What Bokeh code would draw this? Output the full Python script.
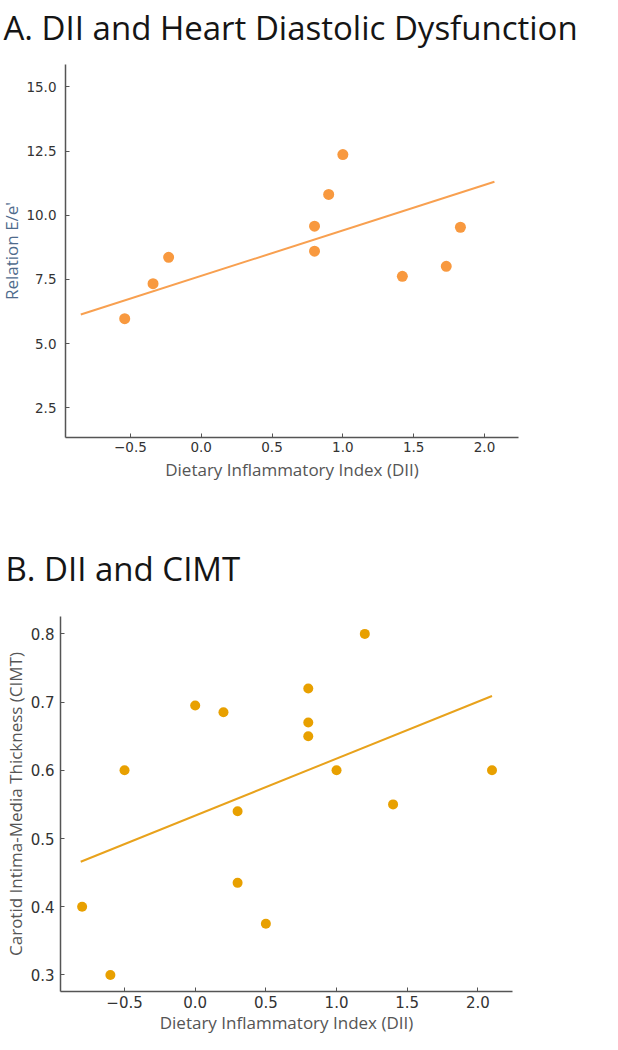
from bokeh.embed import file_html
from bokeh.models import CustomJSTickFormatter, FixedTicker, Range1d
from bokeh.plotting import figure
from bokeh.resources import INLINE

# A. DII vs E/e'
dii_a = [-0.54, -0.34, -0.23, 0.80, 0.80, 0.90, 1.00, 1.42, 1.73, 1.83]
ee_a = [5.97, 7.33, 8.36, 9.57, 8.60, 10.81, 12.36, 7.62, 8.01, 9.53]
trend_a_x = [-0.85, 2.07]
trend_a_y = [6.13, 11.30]

# B. DII vs CIMT
dii_b = [-0.8, -0.6, -0.5, 0.0, 0.2, 0.3, 0.3, 0.5, 0.8, 0.8, 0.8, 1.0, 1.2, 1.4, 2.1]
cimt_b = [0.40, 0.30, 0.60, 0.695, 0.685, 0.54, 0.435, 0.375, 0.72, 0.67, 0.65, 0.60, 0.80, 0.55, 0.60]
trend_b_x = [-0.81, 2.10]
trend_b_y = [0.466, 0.709]

x_ticks = [-0.5, 0.0, 0.5, 1.0, 1.5, 2.0]
y_ticks_a = [2.5, 5.0, 7.5, 10.0, 12.5, 15.0]
y_ticks_b = [0.3, 0.4, 0.5, 0.6, 0.7, 0.8]

fmt = "return tick.toFixed(1).replace('-', '\\u2212');"


def style(p, title, offset, standoff, ylabel, ylabel_color, tick_size):
    p.title.text = title
    p.title.text_font = "Open Sans"
    p.title.text_font_size = "33px"
    p.title.text_font_style = "normal"
    p.title.text_color = "#151515"
    p.title.align = "left"
    p.title.vertical_align = "top"
    p.title.offset = offset
    p.title.standoff = standoff
    p.grid.visible = False
    p.outline_line_color = None
    p.yaxis.axis_label = ylabel
    p.xaxis.axis_label = "Dietary Inflammatory Index (DII)"
    for ax in (p.xaxis[0], p.yaxis[0]):
        ax.axis_line_color = "#555555"
        ax.axis_line_width = 1.5
        ax.major_tick_in = 4
        ax.major_tick_out = 0
        ax.major_tick_line_color = "#555555"
        ax.minor_tick_line_color = None
        ax.major_label_text_font = "DejaVu Sans"
        ax.major_label_text_font_size = tick_size
        ax.major_label_text_color = "#333333"
        ax.axis_label_text_font = "Open Sans"
        ax.axis_label_text_font_size = "17px"
        ax.axis_label_text_font_style = "normal"
        ax.axis_label_text_color = "#555555"
        ax.formatter = CustomJSTickFormatter(code=fmt)
    p.yaxis.axis_label_text_color = ylabel_color


pa = figure(frame_width=453, frame_height=373, output_backend="svg", toolbar_location=None,
            x_range=Range1d(-0.958, 2.24), y_range=Range1d(1.34, 15.87),
            min_border_left=69, min_border_right=60, min_border_top=70, min_border_bottom=101,
            styles={"margin-top": "-8px", "margin-left": "-4px"})
style(pa, "A. DII and Heart Diastolic Dysfunction", -62, 25,
      "Relation E/e'", "#4f6b8c", "13.5px")
pa.xaxis.ticker = FixedTicker(ticks=x_ticks)
pa.yaxis.ticker = FixedTicker(ticks=y_ticks_a)
pa.yaxis.major_label_standoff = 9
pa.yaxis.axis_label_standoff = 0
pa.xaxis.major_label_standoff = 4
pa.xaxis.axis_label_standoff = 3
pa.line(trend_a_x, trend_a_y, line_color="#f8a050", line_width=2)
pa.scatter(dii_a, ee_a, size=11, fill_color="#f8993f", line_color=None)

pb = figure(frame_width=452, frame_height=375, output_backend="svg", toolbar_location=None,
            x_range=Range1d(-0.953, 2.245), y_range=Range1d(0.2757, 0.8255),
            min_border_left=64, min_border_right=64, min_border_top=93, min_border_bottom=46,
            styles={"margin-top": "-17px", "margin-left": "-4px"})
style(pb, "B. DII and CIMT", -55, 48,
      "Carotid Intima-Media Thickness (CIMT)", "#555555", "15px")
pb.xaxis.ticker = FixedTicker(ticks=x_ticks)
pb.yaxis.ticker = FixedTicker(ticks=y_ticks_b)
pb.yaxis.major_label_standoff = 6
pb.yaxis.axis_label_standoff = 1
pb.xaxis.major_label_standoff = 4
pb.xaxis.axis_label_standoff = 0
pb.line(trend_b_x, trend_b_y, line_color="#e8a21c", line_width=2)
pb.scatter(dii_b, cimt_b, size=10, fill_color="#e8a000", line_color=None)

open("out.html", "w").write(file_html([pa, pb], INLINE))
